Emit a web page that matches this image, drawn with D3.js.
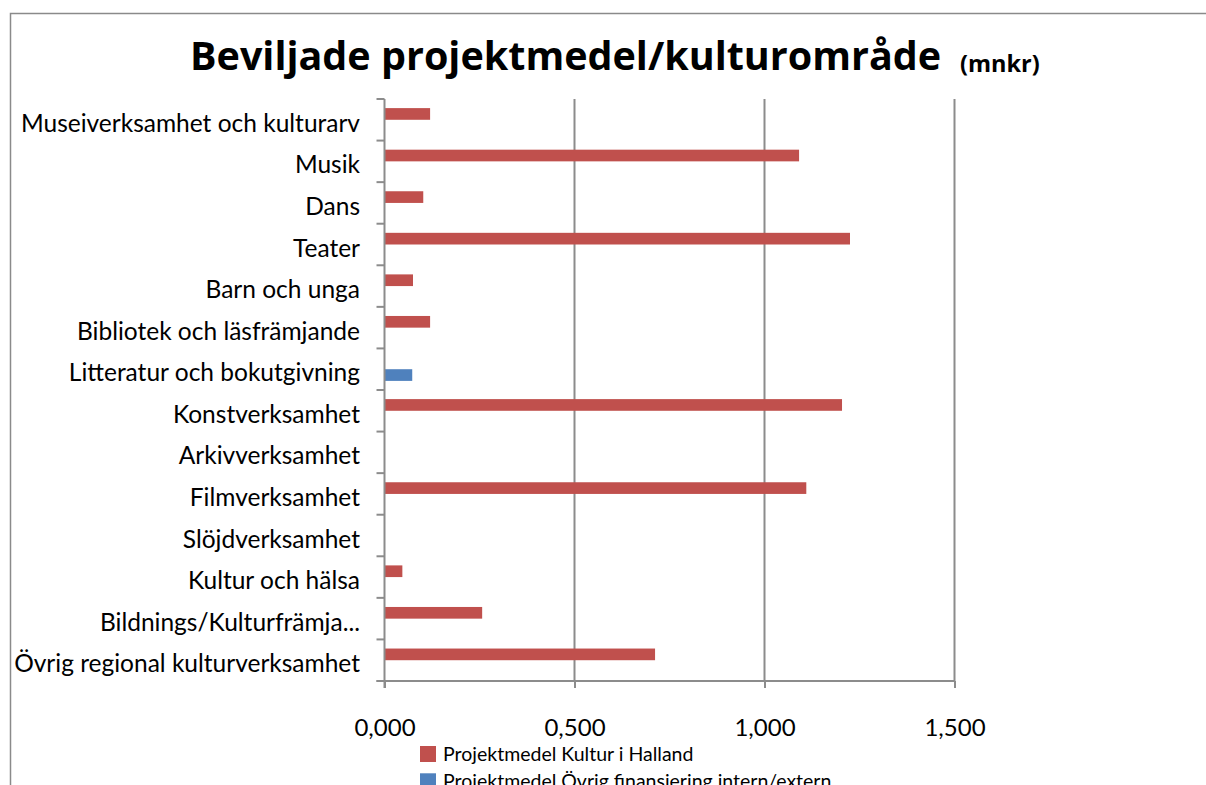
<!DOCTYPE html>
<html>
<head>
<meta charset="utf-8">
<script src="https://cdn.jsdelivr.net/npm/d3@7"></script>
<style>
  body { margin: 0; background: #fff; }
  svg { display: block; font-family: Lato, "Open Sans", sans-serif; }
  text { fill: #000; }
</style>
</head>
<body>
<div id="chart"></div>
<script>
// categories, top to bottom
const categories = [
  "Museiverksamhet och kulturarv",
  "Musik",
  "Dans",
  "Teater",
  "Barn och unga",
  "Bibliotek och läsfrämjande",
  "Litteratur och bokutgivning",
  "Konstverksamhet",
  "Arkivverksamhet",
  "Filmverksamhet",
  "Slöjdverksamhet",
  "Kultur och hälsa",
  "Bildnings/Kulturfrämja...",
  "Övrig regional kulturverksamhet"
];
const seriesNames = ["Projektmedel Kultur i Halland", "Projektmedel Övrig finansiering intern/extern"];
const kulturIHalland = [0.120, 1.091, 0.102, 1.225, 0.075, 0.120, 0, 1.204, 0, 1.110, 0, 0.047, 0.257, 0.712];
const ovrigFinansiering = [0, 0, 0, 0, 0, 0, 0.073, 0, 0, 0, 0, 0, 0, 0];
const xTicks = [0, 0.5, 1.0, 1.5];
const colors = ["#c0504d", "#4f81bd"];

const width = 1206, height = 785;
const svg = d3.select("#chart").append("svg")
  .attr("width", width)
  .attr("height", height);

// outer frame (cut by the window on right and bottom)
svg.append("path")
  .attr("d", "M10.5," + height + "V13.5H" + width)
  .attr("fill", "none")
  .attr("stroke", "#8a8a8a")
  .attr("stroke-width", 1.5);

// title
svg.append("text")
  .attr("x", 190)
  .attr("y", 70)
  .style("font-family", "'Open Sans', sans-serif")
  .style("font-size", "39.5px")
  .style("font-weight", "bold")
  .text("Beviljade projektmedel/kulturområde");
svg.append("text")
  .attr("x", 960)
  .attr("y", 72)
  .style("font-family", "'Open Sans', sans-serif")
  .style("font-size", "23.5px")
  .style("font-weight", "bold")
  .text("(mnkr)");

const plot = { left: 384.5, right: 954.5, top: 99, bottom: 681 };

const x = d3.scaleLinear()
  .domain([0, 1.5])
  .range([plot.left, plot.right]);

const y = d3.scaleBand()
  .domain(categories)
  .range([plot.top, plot.bottom])
  .padding(0);

const ySeries = d3.scaleBand()
  .domain(seriesNames)
  .range([0, y.bandwidth()])
  .paddingInner(0)
  .paddingOuter(0.78);

const grid = "#8c8c8c";

// gridlines
svg.append("g")
  .selectAll("line")
  .data(xTicks.slice(1))
  .enter().append("line")
  .attr("x1", d => x(d)).attr("x2", d => x(d))
  .attr("y1", plot.top).attr("y2", plot.bottom)
  .attr("stroke", grid)
  .attr("stroke-width", 2);

// bars
const rows = categories.map((c, i) => ({ cat: c, values: [kulturIHalland[i], ovrigFinansiering[i]] }));
const groups = svg.append("g")
  .selectAll("g")
  .data(rows)
  .enter().append("g")
  .attr("transform", d => "translate(0," + y(d.cat) + ")");

groups.selectAll("rect")
  .data(d => d.values.map((v, j) => ({ series: seriesNames[j], value: v, j: j })))
  .enter().append("rect")
  .attr("x", x(0))
  .attr("y", d => ySeries(d.series))
  .attr("width", d => x(d.value) - x(0))
  .attr("height", ySeries.bandwidth())
  .attr("fill", d => colors[d.j]);

// x axis
const fmt = d3.formatLocale({ decimal: ",", thousands: " ", grouping: [3], currency: ["", " kr"] }).format(".3f");
const xAxis = svg.append("g")
  .attr("transform", "translate(0," + plot.bottom + ")")
  .call(d3.axisBottom(x).tickValues(xTicks).tickSize(7).tickPadding(31).tickFormat(fmt));
xAxis.attr("font-family", null);
xAxis.select(".domain")
  .attr("d", "M" + (plot.left - 8) + ",0H" + plot.right)
  .attr("stroke", grid)
  .attr("stroke-width", 2);
xAxis.selectAll(".tick line").attr("stroke", grid).attr("stroke-width", 2);
xAxis.selectAll(".tick text")
  .attr("font-size", 24)
  .attr("fill", "#000");

// y axis (category ticks between bands)
const yAxis = svg.append("g").attr("transform", "translate(" + plot.left + ",0)");
yAxis.append("line")
  .attr("x1", 0).attr("x2", 0)
  .attr("y1", plot.top).attr("y2", plot.bottom + 7)
  .attr("stroke", grid)
  .attr("stroke-width", 2);
const edges = categories.map(c => y(c)).concat([plot.bottom]);
yAxis.selectAll(".cattick")
  .data(edges)
  .enter().append("line")
  .attr("class", "cattick")
  .attr("x1", -8).attr("x2", 0)
  .attr("y1", d => d).attr("y2", d => d)
  .attr("stroke", grid)
  .attr("stroke-width", 2);

svg.append("g")
  .selectAll("text")
  .data(categories)
  .enter().append("text")
  .attr("x", 360)
  .attr("y", d => y(d) + y.bandwidth() / 2 + 12)
  .attr("text-anchor", "end")
  .attr("font-size", 24.5)
  .text(d => d);

// legend
const legend = svg.append("g")
  .selectAll("g")
  .data(seriesNames)
  .enter().append("g")
  .attr("transform", (d, i) => "translate(420," + (746 + i * 27.3) + ")");
legend.append("rect")
  .attr("width", 16)
  .attr("height", 16)
  .attr("fill", (d, i) => colors[i]);
legend.append("text")
  .attr("x", 23)
  .attr("y", 15)
  .attr("font-size", 19.5)
  .text(d => d);
</script>
</body>
</html>
